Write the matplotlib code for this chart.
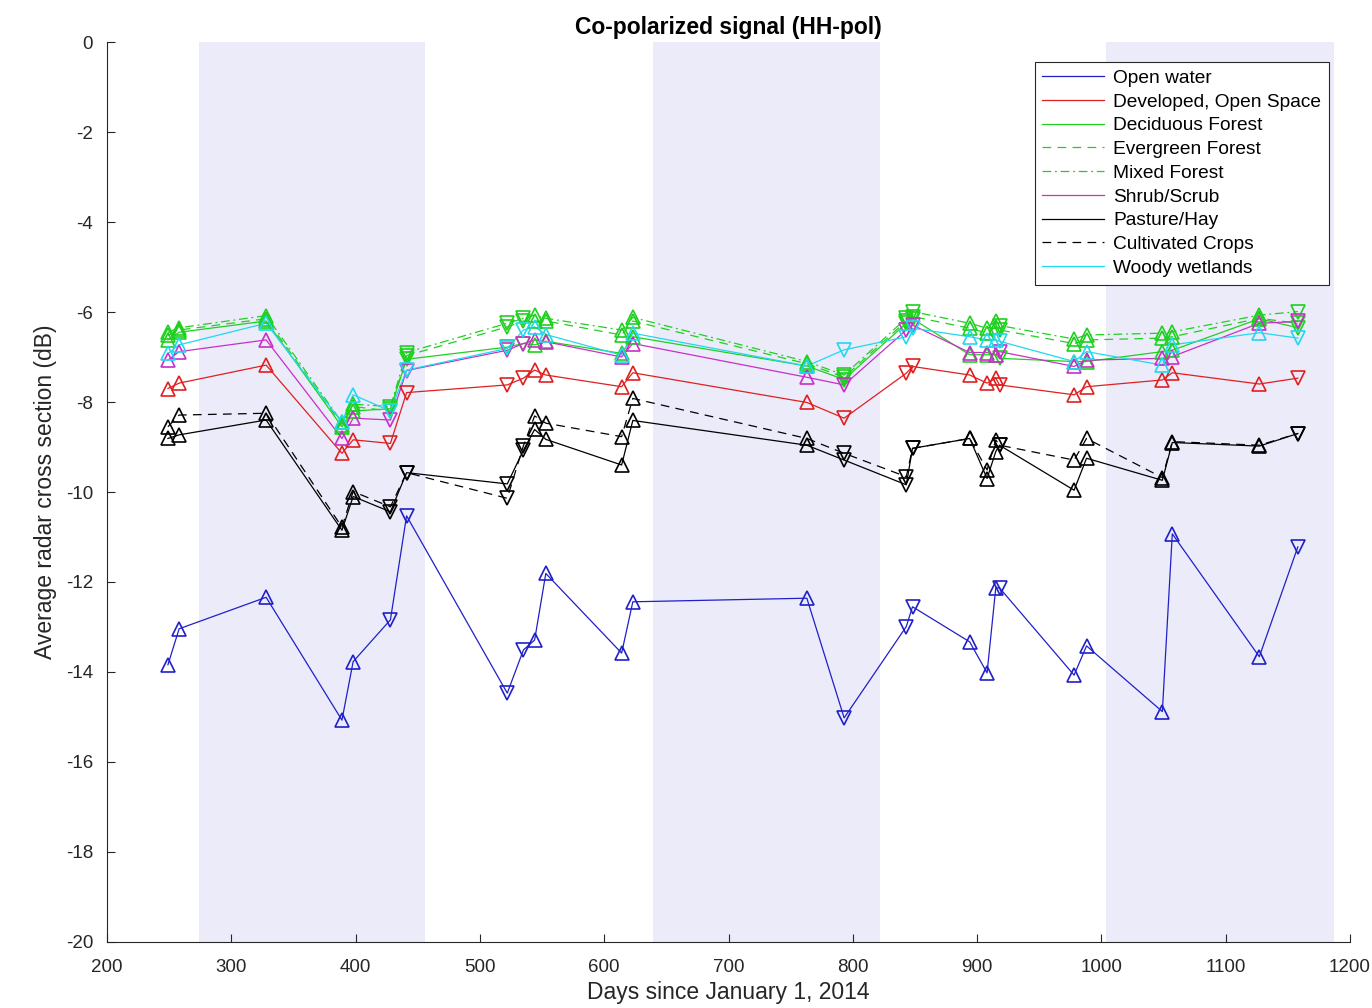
import matplotlib
matplotlib.use("Agg")
import matplotlib.pyplot as plt
import numpy as np

plt.rcParams['font.family'] = ['Liberation Sans', 'DejaVu Sans']
plt.rcParams['axes.unicode_minus'] = False

days = [249, 258, 328, 389, 398, 428, 441, 522, 535, 544, 553, 614, 623, 763, 793,
        843, 848, 894, 908, 915, 918, 978, 988, 1049, 1057, 1127, 1158]
# 1 = ascending (up triangle), 0 = descending (down triangle)
orbit = [1, 1, 1, 1, 1, 0, 0, 0, 0, 1, 1, 1, 1, 1, 0, 0, 0, 1, 1, 1, 0, 1, 1, 1, 1, 1, 0]

open_water = [-13.84, -13.04, -12.34, -15.07, -13.77, -12.84, -10.53, -14.47, -13.51, -13.29,
              -11.81, -13.58, -12.44, -12.36, -15.02, -12.99, -12.55, -13.33, -14.02, -12.13,
              -12.13, -14.07, -13.42, -14.88, -10.93, -13.66, -11.22]
developed = [-7.70, -7.58, -7.18, -9.14, -8.84, -8.92, -7.79, -7.62, -7.47, -7.29,
             -7.40, -7.66, -7.35, -8.01, -8.36, -7.36, -7.21, -7.40, -7.58, -7.47,
             -7.62, -7.84, -7.66, -7.51, -7.35, -7.60, -7.47]
deciduous = [-6.62, -6.45, -6.20, -8.55, -8.20, -8.15, -7.05, -6.78, -6.70, -6.73,
             -6.65, -6.92, -6.55, -7.20, -7.50, -6.25, -6.15, -6.95, -6.95, -6.95,
             -7.03, -7.10, -7.10, -6.88, -6.85, -6.15, -6.35]
evergreen = [-6.52, -6.40, -6.15, -8.50, -8.10, -8.20, -6.97, -6.33, -6.20, -6.20,
             -6.20, -6.51, -6.20, -7.15, -7.45, -6.20, -6.10, -6.36, -6.47, -6.33,
             -6.40, -6.70, -6.62, -6.58, -6.55, -6.14, -6.25]
mixed = [-6.45, -6.35, -6.08, -8.45, -8.05, -8.10, -6.90, -6.25, -6.14, -6.07,
         -6.14, -6.40, -6.12, -7.10, -7.40, -6.14, -5.99, -6.25, -6.36, -6.21,
         -6.30, -6.60, -6.51, -6.47, -6.44, -6.07, -5.99]
shrub = [-7.07, -6.88, -6.62, -8.81, -8.36, -8.40, -7.30, -6.85, -6.70, -6.62,
         -6.66, -7.00, -6.70, -7.45, -7.62, -6.40, -6.29, -6.90, -6.90, -6.95,
         -6.88, -7.21, -7.07, -7.03, -6.99, -6.25, -6.21]
pasture = [-8.81, -8.73, -8.40, -10.85, -10.10, -10.44, -9.57, -9.82, -9.07, -8.61,
           -8.83, -9.40, -8.41, -8.96, -9.29, -9.84, -9.03, -8.81, -9.70, -9.10,
           -8.96, -9.96, -9.25, -9.74, -8.90, -8.98, -8.70]
crops = [-8.55, -8.29, -8.25, -10.78, -9.99, -10.33, -9.57, -10.14, -8.97, -8.31,
         -8.47, -8.77, -7.92, -8.81, -9.14, -9.66, -9.03, -8.81, -9.51, -8.84,
         -8.96, -9.29, -8.81, -9.68, -8.88, -8.96, -8.70]
woody = [-6.92, -6.73, -6.25, -8.45, -7.84, -8.20, -7.29, -6.81, -6.40, -6.33,
         -6.50, -6.96, -6.47, -7.20, -6.84, -6.55, -6.36, -6.55, -6.62, -6.62,
         -6.65, -7.10, -6.88, -7.18, -6.73, -6.46, -6.58]

labels = ["Open water", "Developed, Open Space", "Deciduous Forest", "Evergreen Forest",
          "Mixed Forest", "Shrub/Scrub", "Pasture/Hay", "Cultivated Crops", "Woody wetlands"]
series = [open_water, developed, deciduous, evergreen, mixed, shrub, pasture, crops, woody]
colors = ["#2020c8", "#e02020", "#20d020", "#20d020", "#20d020", "#c830c8", "#000000",
          "#000000", "#20d8f0"]
styles = ["-", "-", "-", (0, (7, 5)), (0, (7, 3, 1.5, 3)), "-", "-", (0, (7, 5)), "-"]

winter_start = [274, 639, 1004]
winter_end = [456, 822, 1187]

fig = plt.figure(figsize=(13.72, 10.08), dpi=100)
ax = fig.add_axes([0.078, 0.0655, 0.906, 0.8928])

for s, e in zip(winter_start, winter_end):
    ax.axvspan(s, e, color="#ebebfa", lw=0, zorder=0)

d = np.array(days)
o = np.array(orbit)
handles = []
for vals, lab, c, ls in zip(series, labels, colors, styles):
    v = np.array(vals)
    h, = ax.plot(d, v, color=c, ls=ls, lw=0.9, label=lab, zorder=2)
    handles.append(h)
    ax.plot(d[o == 1], v[o == 1], ls="none", marker="^", ms=10, mfc="none",
            mec=c, mew=1.2, zorder=3)
    ax.plot(d[o == 0], v[o == 0], ls="none", marker="v", ms=10, mfc="none",
            mec=c, mew=1.2, zorder=3)

ax.set_xlim(200, 1200)
ax.set_ylim(-20, 0)
ax.set_xticks(np.arange(200, 1201, 100))
ax.set_yticks(np.arange(-20, 1, 2))
ax.tick_params(direction="in", length=6, labelsize=13.5, colors="#262626", top=False, right=False)
ax.tick_params(axis="x", pad=12)
ax.tick_params(axis="y", pad=10)
for side in ["top", "right"]:
    ax.spines[side].set_visible(False)
for side in ["left", "bottom"]:
    ax.spines[side].set_color("#262626")
ax.set_xlabel("Days since January 1, 2014", fontsize=16.5, color="#262626", labelpad=4)
ax.set_ylabel("Average radar cross section (dB)", fontsize=16.5, color="#262626", labelpad=6)
ax.set_title("Co-polarized signal (HH-pol)", fontsize=16.5, fontweight="bold", pad=6)

leg = ax.legend(handles=handles, loc="upper right", bbox_to_anchor=(0.983, 0.978),
                fontsize=13.8, frameon=True, fancybox=False, edgecolor="#262626",
                handlelength=3.2, handletextpad=0.5, labelspacing=0.33, borderpad=0.4,
                borderaxespad=0)
leg.get_frame().set_linewidth(0.8)
leg.get_frame().set_facecolor("white")
leg.get_frame().set_alpha(1)

fig.savefig("out.png", dpi=100)
